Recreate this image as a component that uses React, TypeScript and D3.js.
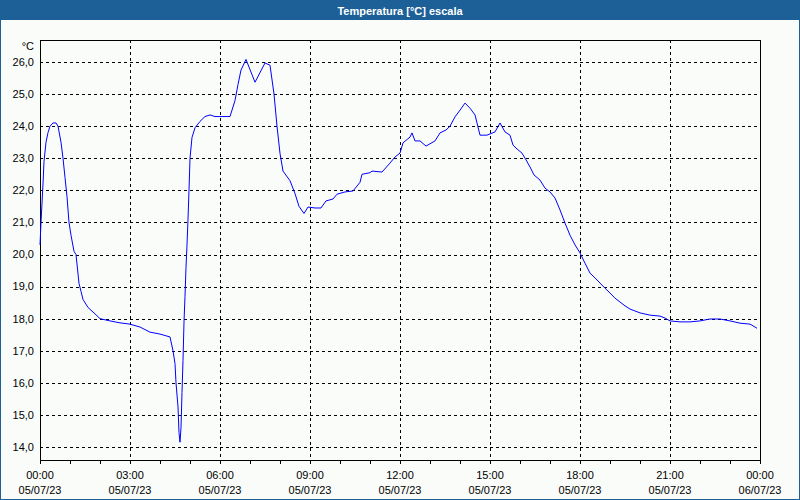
import React from "react";
import * as d3 from "d3";

const minutes: number[] = [
  0, 2, 4, 6, 8, 12, 16, 20, 26, 32, 36, 42, 46, 50, 54, 58, 62, 68, 72, 78, 82, 86, 96, 110, 120,
  140, 160, 180, 200, 220, 240, 260, 266, 270, 272, 276, 278, 280, 282, 284, 286, 288, 290, 292,
  294, 296, 298, 300, 304, 310, 320, 330, 340, 350, 380, 390, 396, 402, 412, 430, 450, 460, 468,
  474, 480, 486, 500, 510, 518, 528, 536, 550, 562, 572, 586, 594, 610, 626, 640, 644, 660, 664,
  684, 700, 710, 720, 726, 740, 744, 750, 760, 772, 790, 800, 812, 820, 830, 840, 850, 860, 870,
  874, 880, 894, 910, 920, 930, 940, 946, 954, 964, 972, 980, 988, 1000, 1010, 1020, 1030, 1040,
  1050, 1060, 1070, 1080, 1090, 1100, 1110, 1120, 1130, 1140, 1150, 1160, 1170, 1180, 1200, 1220,
  1240, 1250, 1260, 1280, 1300, 1320, 1340, 1360, 1380, 1400, 1420, 1430, 1434,
];

const temps: number[] = [
  20.3, 21.0, 21.6, 22.2, 22.9, 23.5, 23.8, 24.0, 24.1, 24.1, 24.0, 23.5, 23.0, 22.4, 21.8, 21.0,
  20.6, 20.1, 20.0, 19.1, 18.85, 18.6, 18.35, 18.15, 18.0, 17.93, 17.87, 17.83, 17.74, 17.58,
  17.52, 17.43, 17.0, 16.6, 16.0, 15.25, 14.45, 14.15, 14.6, 15.7, 16.7, 17.9, 18.7, 19.6, 20.3,
  21.1, 22.0, 23.0, 23.65, 23.95, 24.15, 24.3, 24.35, 24.3, 24.3, 24.8, 25.3, 25.75, 26.08, 25.37,
  25.97, 25.9, 25.0, 24.0, 23.15, 22.6, 22.3, 21.9, 21.5, 21.28, 21.48, 21.45, 21.45, 21.67, 21.73,
  21.88, 21.95, 21.98, 22.25, 22.5, 22.55, 22.6, 22.57, 22.85, 23.04, 23.16, 23.48, 23.66, 23.79,
  23.54, 23.54, 23.38, 23.54, 23.79, 23.88, 24.0, 24.29, 24.5, 24.72, 24.56, 24.35, 24.1, 23.72,
  23.72, 23.82, 24.1, 23.82, 23.72, 23.41, 23.29, 23.16, 22.95, 22.73, 22.48, 22.32, 22.07, 21.95,
  21.76, 21.39, 20.98, 20.6, 20.3, 20.05, 19.73, 19.42, 19.27, 19.11, 18.95, 18.8, 18.64, 18.52,
  18.4, 18.3, 18.18, 18.11, 18.08, 18.02, 17.93, 17.9, 17.9, 17.93, 17.99, 17.99, 17.93, 17.86,
  17.83, 17.74, 17.7,
];

const yTicks: number[] = [14, 15, 16, 17, 18, 19, 20, 21, 22, 23, 24, 25, 26];
const xTickMinutes: number[] = [0, 180, 360, 540, 720, 900, 1080, 1260, 1440];
const xTimeLabels: string[] = ["00:00", "03:00", "06:00", "09:00", "12:00", "15:00", "18:00", "21:00", "00:00"];
const xDateLabels: string[] = ["05/07/23", "05/07/23", "05/07/23", "05/07/23", "05/07/23", "05/07/23", "05/07/23", "05/07/23", "06/07/23"];
const hourTicks: number[] = d3.range(0, 1441, 60);

const title = "Temperatura [°C] escala";
const unit = "°C";

export default function App() {
  const W = 800;
  const H = 500;
  const left = 40, right = 760, top = 40, bottom = 460;
  const x = d3.scaleLinear().domain([0, 1440]).range([left, right]);
  const y = d3.scaleLinear().domain([13.595, 26.686]).range([bottom, top]);
  const data = minutes.map((m, i) => [m, temps[i]] as [number, number]);
  const line = d3.line<[number, number]>().x((d) => x(d[0])).y((d) => y(d[1]));
  const font = "'Liberation Sans', Arial, sans-serif";
  const px = (v: number) => Math.round(v) + 0.5;

  return (
    <svg
      width={W}
      height={H}
      style={{ position: "absolute", left: 0, top: 0, display: "block" }}
      fontFamily={font}
    >
      <rect x={0} y={0} width={W} height={H} fill="#1d5f97" />
      <rect x={1} y={20} width={W - 2} height={H - 21} fill="#fafcfa" />
      <text x={400} y={14.5} textAnchor="middle" fill="#ffffff" fontSize={11} fontWeight="bold">
        {title}
      </text>

      {/* horizontal grid */}
      {yTicks.map((t) => (
        <line
          key={"gy" + t}
          x1={left}
          x2={right}
          y1={px(y(t))}
          y2={px(y(t))}
          stroke="#000"
          strokeDasharray="3,3"
          shapeRendering="crispEdges"
        />
      ))}
      {/* vertical grid */}
      {xTickMinutes.slice(1, -1).map((m) => (
        <line
          key={"gx" + m}
          x1={px(x(m))}
          x2={px(x(m))}
          y1={top}
          y2={bottom}
          stroke="#000"
          strokeDasharray="3,3"
          shapeRendering="crispEdges"
        />
      ))}
      {/* hour ticks */}
      {hourTicks.map((m) => (
        <line
          key={"ht" + m}
          x1={px(x(m))}
          x2={px(x(m))}
          y1={bottom}
          y2={bottom + 4}
          stroke="#000"
          shapeRendering="crispEdges"
        />
      ))}
      {/* frame */}
      <rect
        x={left + 0.5}
        y={top + 0.5}
        width={right - left}
        height={bottom - top}
        fill="none"
        stroke="#000"
        shapeRendering="crispEdges"
      />

      {/* y labels */}
      <text x={34} y={50} textAnchor="end" fontSize={11} fill="#000">
        {unit}
      </text>
      {yTicks.map((t) => (
        <text key={"yl" + t} x={34} y={y(t)} dy="0.35em" textAnchor="end" fontSize={11} fill="#000">
          {d3.format(".1f")(t).replace(".", ",")}
        </text>
      ))}
      {/* x labels */}
      {xTickMinutes.map((m, i) => (
        <g key={"xl" + m}>
          <text x={x(m)} y={479} textAnchor="middle" fontSize={11} fill="#000">
            {xTimeLabels[i]}
          </text>
          <text x={x(m)} y={494} textAnchor="middle" fontSize={11} fill="#000">
            {xDateLabels[i]}
          </text>
        </g>
      ))}

      <path d={line(data) || ""} fill="none" stroke="#0000ff" strokeWidth={1} />
    </svg>
  );
}
